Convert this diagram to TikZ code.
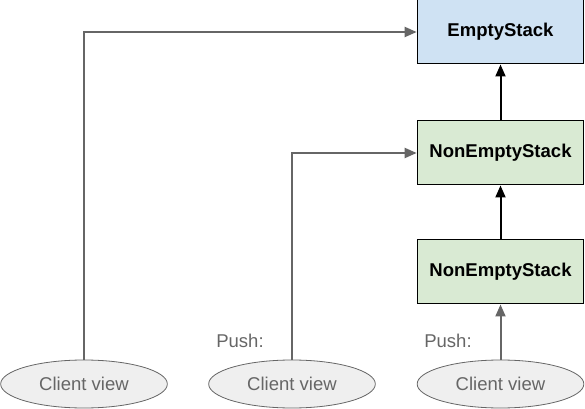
\documentclass[tikz,border=0pt]{standalone}
\usepackage{fontspec}
\setmainfont{Liberation Sans}
\usepackage{xcolor}
\usepackage{tikz}
\usetikzlibrary{arrows.meta,positioning,shapes.geometric}
\definecolor{stackblue}{RGB}{207,226,243}
\definecolor{stackgreen}{RGB}{217,234,211}
\definecolor{viewfill}{RGB}{239,239,239}
\definecolor{linegray}{RGB}{102,102,102}
\definecolor{textgray}{RGB}{102,102,102}

\tikzset{
  stackbox/.style={draw=black, line width=0.75pt, minimum width=125pt, minimum height=48pt, font=\fontsize{13.9}{16}\selectfont\bfseries},
  clientview/.style={ellipse, draw=linegray, line width=0.6pt, fill=viewfill, minimum width=125pt, minimum height=36pt, text=textgray, font=\fontsize{13.9}{16}\selectfont},
  pushlabel/.style={text=textgray, font=\fontsize{13.9}{16}\selectfont},
  viewarrow/.style={draw=linegray, line width=1.5pt, -{Triangle[length=9pt,width=7.5pt]}},
  linkarrow/.style={draw=black, line width=1.5pt, -{Triangle[length=9pt,width=7.5pt]}}
}

\begin{document}
\begin{tikzpicture}[x=0.75pt, y=-0.75pt]
  \useasboundingbox (0,0) rectangle (585,409);

  % stack cells
  \node[stackbox, fill=stackblue] (empty) at (500.5,32) {EmptyStack};
  \node[stackbox, fill=stackgreen] (top) at (500.5,153) {NonEmptyStack};
  \node[stackbox, fill=stackgreen] (bottom) at (500.5,272) {NonEmptyStack};

  % client views
  \foreach \i/\x in {1/84, 2/292, 3/500.5} {
    \node[clientview] (view\i) at (\x,384) {Client view};
  }
  \node[pushlabel] (push2) at (240,341) {Push:};
  \node[pushlabel] (push3) at (448,341) {Push:};

  \draw[linkarrow] (bottom.north) -- (top.south);
  \draw[linkarrow] (top.north) -- (empty.south);

  \draw[viewarrow] (view1.north) |- (empty.west);
  \draw[viewarrow] (view2.north) |- (top.west);
  \draw[viewarrow] (view3.north) -- (bottom.south);
\end{tikzpicture}
\end{document}
